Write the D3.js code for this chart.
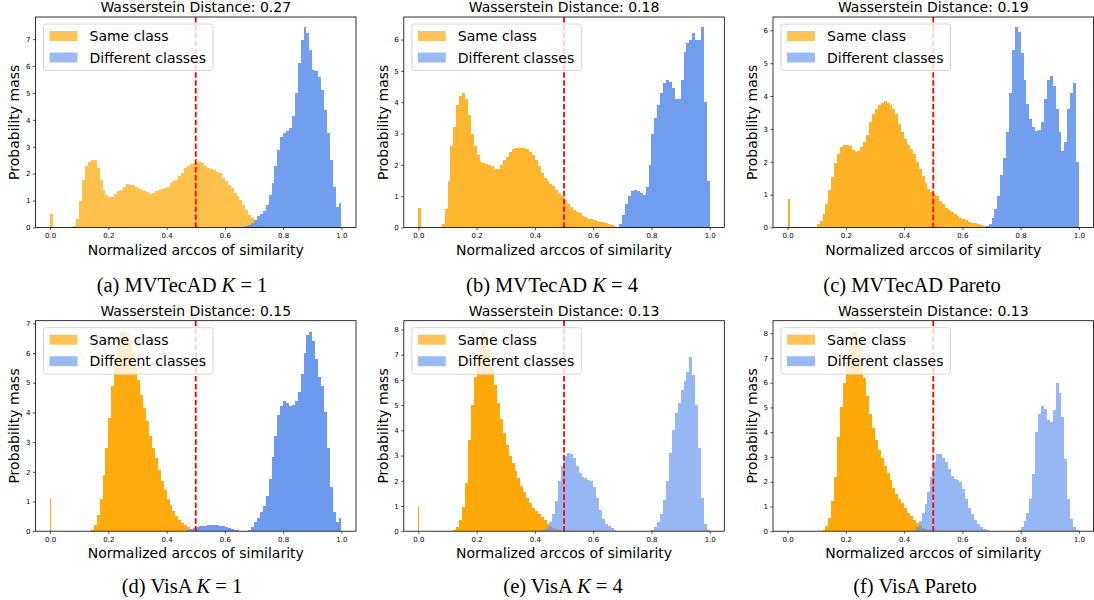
<!DOCTYPE html>
<html>
<head>
<meta charset="utf-8">
<script src="https://cdn.jsdelivr.net/npm/d3@7"></script>
<style>
  body { margin: 0; background: #fff; }
  svg text { font-family: "DejaVu Sans", sans-serif; fill: #000; }
  svg text.caption { font-family: "Liberation Serif", "Times New Roman", serif; }
</style>
</head>
<body>
<svg id="drawing_region"></svg>
<script>
// histogram bin width used when reading the bars off the figure
const binStep = 0.01;
const xTicks = [0, 0.2, 0.4, 0.6, 0.8, 1.0];
const legendLabels = ['Same class', 'Different classes'];
const titles = [
  'Wasserstein Distance: 0.27', 'Wasserstein Distance: 0.18', 'Wasserstein Distance: 0.19',
  'Wasserstein Distance: 0.15', 'Wasserstein Distance: 0.13', 'Wasserstein Distance: 0.13'
];
// caption pieces: [prefix, italic symbol, suffix]
const captions = [
  ['(a) MVTecAD ', 'K', ' = 1'], ['(b) MVTecAD ', 'K', ' = 4'], ['(c) MVTecAD Pareto', '', ''],
  ['(d) VisA ', 'K', ' = 1'], ['(e) VisA ', 'K', ' = 4'], ['(f) VisA Pareto', '', '']
];

// the lone "same class" bar at 0.0
const zeroSpike = [0.51, 0.62, 0.88, 1.08, 1.0, 1.02];

// (a) MVTecAD K=1
const sameAFrom = 0.01;
const sameA = [0.02,0.02,0.02,0.02,0.02,0.02,0.02,0.05,0.3,0.97,1.77,2.27,2.45,2.5,2.5,2.2,1.77,1.4,1.21,1.15,
  1.15,1.25,1.34,1.4,1.52,1.62,1.59,1.59,1.5,1.45,1.4,1.34,1.31,1.25,1.3,1.34,1.4,1.42,1.46,1.5,
  1.65,1.71,1.77,1.9,2.02,2.2,2.28,2.35,2.39,2.45,2.45,2.39,2.3,2.2,2.17,2.14,2.08,2.02,1.83,1.71,
  1.59,1.46,1.3,1.18,1.03,0.84,0.66,0.47,0.35,0.19,0.1,0.08,0.06,0.03,0.01];
const diffAFrom = 0.62;
const diffA = [0.01,0.01,0.02,0.02,0.03,0.05,0.09,0.16,0.28,0.41,0.5,0.62,0.84,1.21,1.65,2.27,2.89,3.38,3.5,3.57,
  3.69,4.13,5.0,6.1,6.98,7.45,7.22,6.6,5.86,5.8,5.6,5.1,4.37,3.5,2.51,1.52,0.78,0.9];

// (b) MVTecAD K=4
const sameBFrom = 0.01;
const sameB = [0.02,0.02,0.02,0.02,0.02,0.02,0.02,0.1,0.6,1.5,2.6,3.2,3.9,4.2,4.3,4.1,3.6,3.0,2.6,2.3,
  2.1,2.05,2.04,2.0,1.96,1.88,1.88,2.0,2.15,2.25,2.4,2.5,2.54,2.55,2.55,2.55,2.5,2.42,2.33,2.17,
  1.96,1.74,1.58,1.48,1.4,1.32,1.21,1.1,0.99,0.89,0.75,0.65,0.55,0.5,0.46,0.38,0.32,0.28,0.26,0.23,
  0.2,0.18,0.16,0.14,0.11,0.08,0.04,0.02];
const diffBFrom = 0.68;
const diffB = [0.03,0.12,0.4,0.75,1.0,1.15,1.2,1.18,1.1,1.05,1.3,2.0,3.0,3.5,3.9,4.3,4.6,4.7,4.65,4.45,
  4.1,4.1,4.7,5.6,5.9,6.0,6.2,6.0,6.0,6.4,4.0,1.5];

// (c) MVTecAD Pareto
const sameCFrom = 0.01;
const sameC = [0.02,0.02,0.02,0.02,0.02,0.02,0.02,0.02,0.02,0.1,0.2,0.4,0.7,1.15,1.55,1.95,2.25,2.45,2.5,2.52,
  2.48,2.35,2.3,2.33,2.45,2.6,2.8,3.2,3.45,3.6,3.72,3.8,3.85,3.78,3.72,3.61,3.46,3.15,2.9,2.7,
  2.5,2.4,2.23,1.98,1.77,1.57,1.36,1.16,1.08,1.03,0.95,0.8,0.7,0.59,0.52,0.47,0.4,0.34,0.29,0.26,
  0.22,0.18,0.15,0.13,0.1,0.07,0.04,0.02];
const diffCFrom = 0.68;
const diffC = [0.04,0.12,0.28,0.55,0.95,1.6,2.1,2.9,4.1,5.4,6.1,5.95,5.3,4.5,3.75,3.3,3.05,2.95,2.97,3.2,
  3.9,4.5,4.6,4.3,3.6,2.9,2.33,2.6,3.6,4.1,4.4,2.0];

// (d) VisA K=1
const sameDFrom = 0.14;
const sameD = [0.05,0.2,0.55,1.1,1.9,2.8,3.8,4.9,5.8,6.4,6.7,6.75,6.65,6.4,6.0,5.6,5.1,4.6,4.15,3.7,
  3.2,2.8,2.45,2.05,1.7,1.4,1.1,0.87,0.67,0.5,0.38,0.28,0.2,0.13,0.08,0.05,0.03,0.01];
const diffDFrom = 0.46;
const diffD = [0.02,0.05,0.09,0.12,0.15,0.16,0.18,0.19,0.2,0.2,0.21,0.2,0.19,0.16,0.14,0.11,0.08,0.05,0.03,0.02,
  0.01,0.01,0.04,0.15,0.3,0.45,0.65,0.85,1.2,1.75,2.5,3.2,3.9,4.2,4.38,4.3,4.2,4.25,4.4,4.7,
  5.3,6.0,6.6,6.7,6.4,5.8,5.2,4.9,4.0,2.8,1.5,0.65,0.3,0.45];

// (e) VisA K=4
const sameEFrom = 0.12;
const sameE = [0.04,0.15,0.45,0.95,1.9,3.6,5.0,6.1,7.0,7.6,7.95,7.75,7.2,6.5,5.8,5.1,4.45,3.9,3.4,3.0,
  2.7,2.4,2.1,1.8,1.56,1.3,1.1,0.93,0.8,0.68,0.55,0.43,0.3,0.2,0.12,0.07,0.04,0.02];
const diffEFrom = 0.42;
const diffE = [0.03,0.08,0.15,0.35,0.7,1.2,2.0,2.6,3.0,3.1,3.05,2.9,2.6,2.3,2.16,2.12,2.05,2.0,1.76,1.3,
  0.85,0.5,0.3,0.2,0.12,0.06,0.02,0,0,0,0,0,0,0,0,0,0,0,0.04,0.15,
  0.35,0.7,1.25,2.0,3.1,4.0,4.7,5.1,5.6,5.95,6.3,6.9,6.2,5.0,3.3,1.3,0.3,0.05];

// (f) VisA Pareto
const sameFFrom = 0.12;
const sameF = [0.05,0.2,0.55,1.2,2.2,3.8,5.0,6.0,7.0,7.6,8.05,8.1,7.6,6.95,6.2,5.45,4.75,4.15,3.7,3.3,
  2.95,2.65,2.35,2.05,1.75,1.5,1.3,1.12,0.95,0.75,0.6,0.45,0.32,0.2,0.12,0.07,0.04,0.02];
const diffFFrom = 0.43;
const diffF = [0.04,0.15,0.4,0.75,1.1,1.6,2.2,2.8,3.1,3.1,2.95,2.8,2.5,2.25,2.1,2.08,2.0,1.7,1.3,0.95,
  0.7,0.45,0.29,0.18,0.1,0.04,0.01,0,0,0,0,0,0,0,0,0,0.04,0.15,0.4,0.75,
  1.3,2.3,4.0,4.75,5.05,4.95,4.5,4.4,4.9,6.0,5.6,4.6,2.9,1.3,0.5,0.15,0.05];

const threshold = 0.5;


class HistPanel {

  constructor(config, same, diff) {
    this.config = {
      parent: config.parent,
      left: config.left,
      top: config.top,
      width: config.width || 320.5,
      height: config.height || 210.5,
      title: config.title,
      caption: config.caption,
      captionX: config.captionX,
      captionY: config.captionY,
      spike: config.spike,
      spikeWidth: config.spikeWidth || 0.01,
      sameOpacity: config.sameOpacity || 0.75,
      diffOpacity: config.diffOpacity || 0.75
    }
    this.same = same;
    this.diff = diff;
    this.init();
  }

  init() {
    let self = this;
    self.chart = d3.select(self.config.parent).append('g')
      .attr('transform', `translate(${self.config.left}, ${self.config.top})`);

    self.xscale = d3.scaleLinear()
      .domain([-0.05, 1.05])
      .range([0, self.config.width]);

    self.yscale = d3.scaleLinear()
      .range([self.config.height, 0]);
  }

  update() {
    let self = this;
    const toBins = s => s.values.map((v, i) => ({x0: s.from + i * binStep, x1: s.from + (i + 1) * binStep, v: v}));

    self.sameBins = [{x0: 0, x1: self.config.spikeWidth, v: self.config.spike}].concat(toBins(self.same));
    self.diffBins = toBins(self.diff);

    const ymax = d3.max(self.sameBins.concat(self.diffBins), d => d.v);
    self.yscale.domain([0, ymax * 1.05]);

    self.render();
  }

  render() {
    let self = this;
    const c = self.config;
    const x = self.xscale, y = self.yscale;

    const bars = (cls, data, color, op) => {
      self.chart.append('g')
        .attr('fill', color)
        .attr('fill-opacity', op)
        .attr('shape-rendering', 'crispEdges')
        .selectAll('rect.' + cls)
        .data(data)
        .join('rect')
        .attr('class', cls)
        .attr('x', d => x(d.x0))
        .attr('width', d => x(d.x1) - x(d.x0))
        .attr('y', d => y(d.v))
        .attr('height', d => y(0) - y(d.v));
    };
    bars('same', self.sameBins, '#ffa500', c.sameOpacity);
    bars('diff', self.diffBins, '#6495ed', c.diffOpacity);

    // threshold line
    self.chart.append('line')
      .attr('x1', x(threshold)).attr('x2', x(threshold))
      .attr('y1', 0).attr('y2', c.height)
      .attr('stroke', 'red')
      .attr('stroke-width', 1.8)
      .attr('stroke-dasharray', '5.5,2.4');

    // axes
    const xaxis = d3.axisBottom(x).tickValues(xTicks).tickFormat(d3.format('.1f'))
      .tickSize(2.5).tickPadding(3);
    const yaxis = d3.axisLeft(y).tickValues(d3.range(0, Math.floor(y.domain()[1]) + 1))
      .tickFormat(d3.format('d')).tickSize(2.5).tickPadding(2.5);

    self.chart.append('g')
      .attr('transform', `translate(0, ${c.height})`)
      .call(xaxis)
      .call(g => g.select('.domain').remove())
      .attr('font-size', 7).attr('font-family', null);

    self.chart.append('g')
      .call(yaxis)
      .call(g => g.select('.domain').remove())
      .attr('font-size', 7).attr('font-family', null);

    self.chart.selectAll('.tick line').attr('stroke', '#000').attr('stroke-width', 0.7);

    self.chart.append('rect')
      .attr('width', c.width).attr('height', c.height)
      .attr('fill', 'none')
      .attr('stroke', '#000')
      .attr('stroke-width', 0.8);

    // labels
    self.chart.append('text')
      .attr('x', c.width / 2).attr('y', -5)
      .attr('text-anchor', 'middle')
      .attr('font-size', 14)
      .text(c.title);

    self.chart.append('text')
      .attr('x', c.width / 2).attr('y', c.height + 27)
      .attr('text-anchor', 'middle')
      .attr('font-size', 14)
      .text('Normalized arccos of similarity');

    self.chart.append('text')
      .attr('transform', `translate(-21, ${c.height / 2}) rotate(-90)`)
      .attr('dy', '0.35em')
      .attr('text-anchor', 'middle')
      .attr('font-size', 14)
      .text('Probability mass');

    // legend
    const legend = self.chart.append('g').attr('transform', 'translate(8, 7)');
    legend.append('rect')
      .attr('width', 169.5).attr('height', 46.5)
      .attr('rx', 2.5)
      .attr('fill', '#fff').attr('fill-opacity', 0.8)
      .attr('stroke', '#cccccc').attr('stroke-width', 0.8);

    const items = legend.selectAll('g.item')
      .data(legendLabels)
      .join('g')
      .attr('class', 'item')
      .attr('transform', (d, i) => `translate(0, ${12 + i * 21.5})`);
    items.append('rect')
      .attr('x', 6).attr('y', -5)
      .attr('width', 28).attr('height', 10)
      .attr('fill', (d, i) => i == 0 ? '#ffa500' : '#6495ed')
      .attr('fill-opacity', 0.65);
    items.append('text')
      .attr('x', 46).attr('dy', '0.36em')
      .attr('font-size', 14)
      .text(d => d);

    // caption under the panel
    const cap = d3.select(c.parent).append('text')
      .attr('class', 'caption')
      .attr('x', c.captionX).attr('y', c.captionY)
      .attr('text-anchor', 'middle')
      .attr('font-size', 20.5);
    cap.append('tspan').text(c.caption[0]);
    if (c.caption[1]) {
      cap.append('tspan').attr('font-style', 'italic').text(c.caption[1]);
      cap.append('tspan').text(c.caption[2]);
    }
  }
}


d3.select('#drawing_region')
  .attr('width', 1094)
  .attr('height', 600);

const lefts = [35.5, 403.8, 773];
const tops = [17, 320.7];
const capX = [[182, 552, 912], [182, 563, 915]];
const capY = [291.5, 593];

const panelData = [
  [{from: sameAFrom, values: sameA}, {from: diffAFrom, values: diffA}, 0.7, 0.9],
  [{from: sameBFrom, values: sameB}, {from: diffBFrom, values: diffB}, 0.82, 0.92],
  [{from: sameCFrom, values: sameC}, {from: diffCFrom, values: diffC}, 0.85, 0.9],
  [{from: sameDFrom, values: sameD}, {from: diffDFrom, values: diffD}, 0.95, 0.95],
  [{from: sameEFrom, values: sameE}, {from: diffEFrom, values: diffE}, 0.97, 0.68],
  [{from: sameFFrom, values: sameF}, {from: diffFFrom, values: diffF}, 0.97, 0.68]
];

panelData.forEach((p, k) => {
  const row = Math.floor(k / 3), col = k % 3;
  let panel = new HistPanel({
    parent: '#drawing_region',
    left: lefts[col],
    top: tops[row],
    title: titles[k],
    caption: captions[k],
    captionX: capX[row][col],
    captionY: capY[row],
    spike: zeroSpike[k],
    spikeWidth: row == 0 ? 0.01 : 0.003,
    sameOpacity: p[2],
    diffOpacity: p[3]
  }, p[0], p[1]);
  panel.update();
});
</script>
</body>
</html>
